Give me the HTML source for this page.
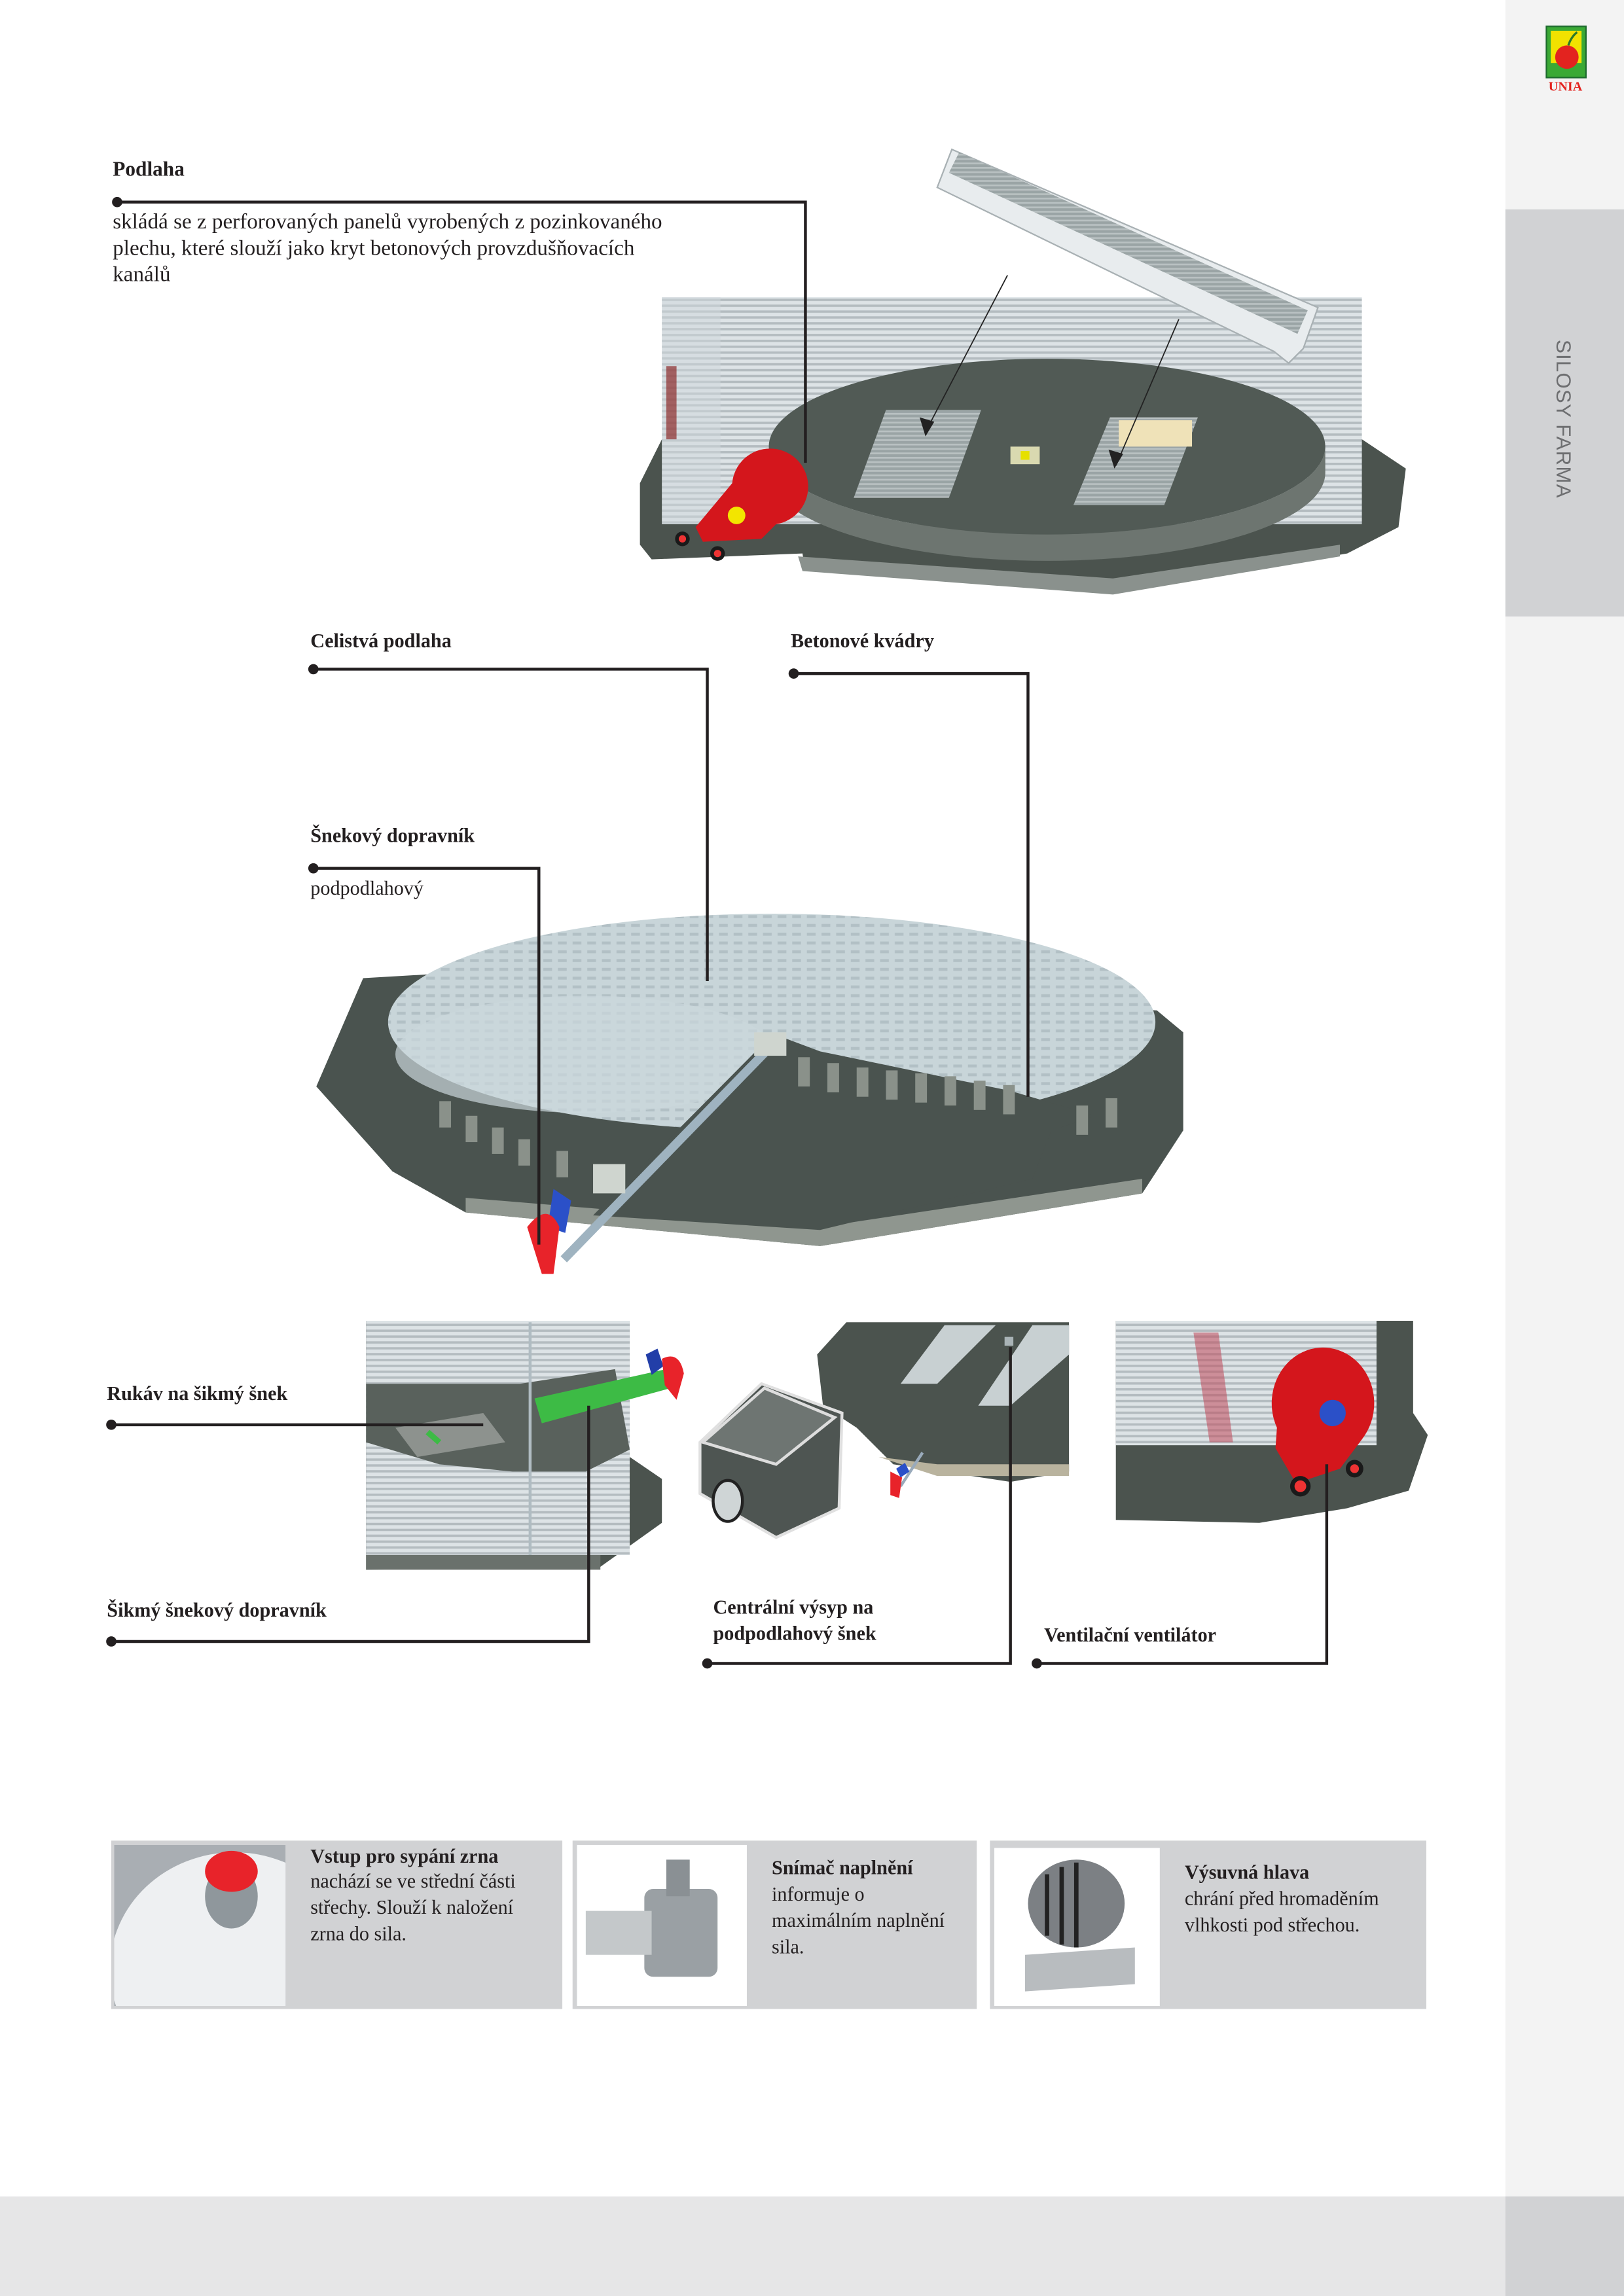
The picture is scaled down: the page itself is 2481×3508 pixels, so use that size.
<!DOCTYPE html>
<html><head><meta charset="utf-8"><style>
html,body{margin:0;padding:0;background:#fff;}
svg{display:block;}
text{font-family:"Liberation Serif",serif;fill:#231f20;}
.b{font-weight:bold;}
</style></head><body>
<svg width="2481" height="3508" viewBox="0 0 1109 1568" preserveAspectRatio="none" xmlns="http://www.w3.org/2000/svg">
<defs>
<pattern id="rib" width="4" height="4" patternUnits="userSpaceOnUse"><rect width="4" height="4" fill="#dde3e6"/><rect width="4" height="1.6" fill="#b4bcc0"/></pattern>
<pattern id="perf" width="10" height="6" patternUnits="userSpaceOnUse"><rect width="10" height="6" fill="#c8d5d9"/><rect x="1" y="1" width="6" height="2" fill="#b2c0c5"/></pattern>
<pattern id="grate" width="5" height="3" patternUnits="userSpaceOnUse"><rect width="5" height="3" fill="#9aa4a5"/><rect width="5" height="1.2" fill="#b9c1c2"/></pattern>
<clipPath id="c1"><rect x="78" y="1260" width="117" height="110"/></clipPath>
<clipPath id="c2"><rect x="394" y="1260" width="116" height="110"/></clipPath>
<clipPath id="c3"><rect x="679" y="1262" width="113" height="108"/></clipPath>
</defs>
<!-- sidebar -->
<rect x="1028" y="0" width="81" height="1568" fill="#f3f3f3"/>
<rect x="1028" y="143" width="81" height="278" fill="#d1d2d4"/>
<rect x="0" y="1500" width="1109" height="68" fill="#e6e6e7"/>
<rect x="1028" y="1500" width="81" height="68" fill="#d1d2d4"/>
<text x="0" y="0" transform="translate(1063,232) rotate(90)" style="font-family:'Liberation Sans',sans-serif;font-size:14px;fill:#6d6e70;letter-spacing:0.5px">SILOSY FARMA</text>
<!-- logo -->
<rect x="1056" y="18" width="27" height="35" fill="#3aa935" stroke="#1c6a2d" stroke-width="1"/>
<rect x="1059" y="21" width="21" height="22" fill="#f2e200"/>
<circle cx="1070" cy="39" r="8" fill="#e3231f"/>
<path d="M1071 31 q2 -6 6 -9" stroke="#2a7a2a" stroke-width="1.5" fill="none"/>
<text x="1069" y="62" text-anchor="middle" class="b" style="font-size:9px;fill:#e3231f">UNIA</text>

<!-- TOP SILO -->
<polygon points="437,330 452,300 930,300 960,320 955,360 920,378 760,405 550,390 548,378 445,382 437,372" fill="#4b534e"/>
<polygon points="545,380 760,395 915,372 915,380 760,406 548,390" fill="#8a918d"/>
<rect x="452" y="203" width="478" height="155" fill="url(#rib)"/>
<rect x="452" y="203" width="40" height="155" fill="#cfd8dc" opacity="0.5"/>
<rect x="455" y="250" width="7" height="50" fill="#8b2b2b" opacity="0.7"/>
<ellipse cx="715" cy="305" rx="190" ry="60" fill="#515a55"/>
<path d="M525 305 a190 60 0 0 0 380 0 l0 18 a190 60 0 0 1 -380 0z" fill="#6d7570"/>
<polygon points="605,280 670,280 648,340 583,340" fill="url(#grate)"/>
<polygon points="758,285 818,285 795,345 733,345" fill="url(#grate)"/>
<rect x="764" y="287" width="50" height="18" fill="#efe2b8"/>
<rect x="690" y="305" width="20" height="12" fill="#d9d9b0"/>
<rect x="697" y="308" width="6" height="6" fill="#e6e000"/>
<line x1="688" y1="188" x2="632" y2="295" stroke="#222" stroke-width="0.8"/>
<polygon points="632,298 628,285 638,288" fill="#222"/>
<line x1="805" y1="218" x2="762" y2="318" stroke="#222" stroke-width="0.8"/>
<polygon points="761,320 757,307 767,310" fill="#222"/>
<polygon points="640,128 650,102 900,210 890,238 880,248 870,240" fill="#e8ecee" stroke="#a8b0b3" stroke-width="1"/>
<polygon points="648,118 655,104 893,212 886,228" fill="url(#grate)"/>
<path d="M500 330 a26 26 0 1 1 30 28 l-10 10 l-40 2 l-5 -10z" fill="#d4161c"/>
<circle cx="503" cy="352" r="6" fill="#f3e500"/>
<circle cx="466" cy="368" r="5" fill="#1a1a1a"/><circle cx="466" cy="368" r="2.5" fill="#e33"/>
<circle cx="490" cy="378" r="5" fill="#1a1a1a"/><circle cx="490" cy="378" r="2.5" fill="#e33"/>

<!-- MIDDLE FLOOR -->
<polygon points="216,742 248,668 300,665 790,690 808,705 808,772 780,815 560,851 318,828 268,800" fill="#4a534f"/>
<polygon points="318,818 560,838 780,805 780,815 560,851 318,828" fill="#8f968f"/>
<ellipse cx="527" cy="698" rx="262" ry="74" fill="url(#perf)"/>
<ellipse cx="400" cy="720" rx="130" ry="40" fill="#cbd7db" opacity="0.7"/>
<polygon points="528,706 405,830 560,840 705,805 718,772 748,762 690,745 560,718" fill="#4a534f"/>
<g fill="#8a918a">
<rect x="300" y="752" width="8" height="18"/><rect x="318" y="762" width="8" height="18"/><rect x="336" y="770" width="8" height="18"/><rect x="354" y="778" width="8" height="18"/><rect x="380" y="786" width="8" height="18"/>
<rect x="545" y="722" width="8" height="20"/><rect x="565" y="726" width="8" height="20"/><rect x="585" y="729" width="8" height="20"/><rect x="605" y="731" width="8" height="20"/><rect x="625" y="733" width="8" height="20"/><rect x="645" y="735" width="8" height="20"/><rect x="665" y="738" width="8" height="20"/><rect x="685" y="741" width="8" height="20"/><rect x="735" y="755" width="8" height="20"/><rect x="755" y="750" width="8" height="20"/>
</g>
<line x1="526" y1="715" x2="385" y2="860" stroke="#9fb3c0" stroke-width="6"/>
<rect x="515" y="705" width="22" height="16" fill="#cfd5cf"/>
<rect x="405" y="795" width="22" height="20" fill="#cfd5cf"/>
<path d="M378 812 l12 8 l-4 22 l-12 -4z" fill="#2b50c8"/>
<path d="M360 838 q14 -18 22 0 l-4 32 l-8 0z" fill="#e8232a"/>

<!-- BOTTOM ROW left -->
<polygon points="250,902 430,902 430,995 452,1010 452,1040 410,1070 250,1072" fill="#4b534e"/>
<rect x="250" y="902" width="180" height="160" fill="url(#rib)"/>
<polygon points="250,945 355,945 420,935 430,990 400,1005 350,1005 300,1000 250,985" fill="#59615c"/>
<polygon points="270,975 330,965 345,985 285,995" fill="#8d928e"/>
<polygon points="365,955 455,935 458,948 370,972" fill="#3dbb45"/>
<line x1="292" y1="978" x2="300" y2="985" stroke="#3dbb45" stroke-width="4"/>
<line x1="362" y1="903" x2="362" y2="1065" stroke="#b0bcc2" stroke-width="2"/>
<path d="M441 925 l8 -4 l4 12 l-8 6z" fill="#223ea8"/>
<path d="M452 928 q12 -6 15 10 l-5 18 l-8 -10z" fill="#e8232a"/>
<rect x="250" y="1062" width="160" height="10" fill="#6a716c"/>

<!-- centre piece -->
<polygon points="558,925 578,903 730,903 730,1005 690,1012 610,1000 585,975 562,960" fill="#4b534e"/>
<polygon points="645,905 680,905 640,945 615,945" fill="#c8d0d2"/>
<polygon points="705,905 730,905 730,925 690,960 668,960" fill="#c8d0d2"/>
<polygon points="600,995 640,1000 730,1000 730,1008 640,1008" fill="#b9b39e"/>
<rect x="686" y="913" width="6" height="6" fill="#a9b3b6"/>
<line x1="630" y1="992" x2="615" y2="1015" stroke="#9ab" stroke-width="2"/>
<path d="M608 1005 l8 4 l-2 14 l-6 -2z" fill="#e8232a"/>
<path d="M612 1003 l6 -4 l3 6 l-6 4z" fill="#2b50c8"/>
<polygon points="478,985 520,945 575,965 573,1030 530,1050 478,1020" fill="#4e5552" stroke="#e0e0e0" stroke-width="2"/>
<polygon points="480,985 522,948 570,968 530,1000" fill="#6e7572" stroke="#ddd" stroke-width="2"/>
<ellipse cx="497" cy="1025" rx="10" ry="14" fill="#cfd5d6" stroke="#222" stroke-width="2"/>

<!-- right fan -->
<polygon points="762,902 965,902 965,965 975,980 962,1018 920,1030 860,1040 762,1038" fill="#4b534e"/>
<rect x="762" y="902" width="178" height="85" fill="url(#rib)"/>
<polygon points="815,910 832,910 842,985 826,985" fill="#c0485a" opacity="0.55"/>
<path d="M872 975 a35 38 0 1 1 58 8 l-15 20 l-30 10 l-14 -24z" fill="#d4161c"/>
<circle cx="910" cy="965" r="9" fill="#2b50c8"/>
<circle cx="888" cy="1015" r="7" fill="#1a1a1a"/><circle cx="888" cy="1015" r="4" fill="#e33"/>
<circle cx="925" cy="1003" r="6" fill="#1a1a1a"/><circle cx="925" cy="1003" r="3" fill="#e33"/>

<!-- CONNECTORS -->
<g stroke="#231f20" stroke-width="2" fill="none">
<polyline points="80,138 550,138 550,316"/>
<polyline points="214,457 483,457 483,670"/>
<polyline points="542,460 702,460 702,749"/>
<polyline points="214,593 368,593 368,850"/>
<polyline points="76,973 330,973"/>
<polyline points="76,1121 402,1121 402,960"/>
<polyline points="483,1136 690,1136 690,920"/>
<polyline points="708,1136 906,1136 906,1000"/>
</g>
<g fill="#231f20">
<circle cx="80" cy="138" r="3.5"/><circle cx="214" cy="457" r="3.5"/><circle cx="542" cy="460" r="3.5"/><circle cx="214" cy="593" r="3.5"/>
<circle cx="76" cy="973" r="3.5"/><circle cx="76" cy="1121" r="3.5"/><circle cx="483" cy="1136" r="3.5"/><circle cx="708" cy="1136" r="3.5"/>
</g>

<!-- TEXTS -->
<g style="font-size:13.5px">
<text x="77" y="120" class="b" style="font-size:14px">Podlaha</text>
<text x="77" y="156" style="font-size:14.8px">skládá se z perforovaných panelů vyrobených z pozinkovaného</text>
<text x="77" y="174" style="font-size:14.8px">plechu, které slouží jako kryt betonových provzdušňovacích</text>
<text x="77" y="192" style="font-size:14.8px">kanálů</text>
<text x="212" y="442" class="b">Celistvá podlaha</text>
<text x="540" y="442" class="b">Betonové kvádry</text>
<text x="212" y="575" class="b">Šnekový dopravník</text>
<text x="212" y="611">podpodlahový</text>
<text x="73" y="956" class="b">Rukáv na šikmý šnek</text>
<text x="73" y="1104" class="b">Šikmý šnekový dopravník</text>
<text x="487" y="1102" class="b">Centrální výsyp na</text>
<text x="487" y="1120" class="b">podpodlahový šnek</text>
<text x="713" y="1121" class="b">Ventilační ventilátor</text>
</g>

<!-- BOTTOM BOXES -->
<rect x="76" y="1257" width="308" height="115" fill="#d1d2d4"/>
<g clip-path="url(#c1)">
<rect x="78" y="1260" width="117" height="110" fill="#a9aeb3"/>
<ellipse cx="160" cy="1345" rx="85" ry="80" fill="#eef0f2"/>
<ellipse cx="158" cy="1295" rx="18" ry="22" fill="#8f979c"/>
<ellipse cx="158" cy="1278" rx="18" ry="14" fill="#e8232a"/>
</g>
<rect x="391" y="1257" width="276" height="115" fill="#d1d2d4"/>
<rect x="394" y="1260" width="116" height="110" fill="#ffffff"/>
<g clip-path="url(#c2)">
<rect x="440" y="1290" width="50" height="60" rx="6" fill="#9aa0a4"/>
<rect x="400" y="1305" width="45" height="30" fill="#c4c8ca"/>
<rect x="455" y="1270" width="16" height="25" fill="#8a9094"/>
</g>
<rect x="676" y="1257" width="298" height="115" fill="#d1d2d4"/>
<rect x="679" y="1262" width="113" height="108" fill="#ffffff"/>
<g clip-path="url(#c3)">
<ellipse cx="735" cy="1300" rx="33" ry="30" fill="#7c8084"/>
<g stroke="#222" stroke-width="3"><line x1="715" y1="1280" x2="715" y2="1322"/><line x1="725" y1="1275" x2="725" y2="1328"/><line x1="735" y1="1272" x2="735" y2="1330"/></g>
<polygon points="700,1335 775,1330 775,1355 700,1360" fill="#b8bcbf"/>
</g>
<g style="font-size:13.5px">
<text x="212" y="1272" class="b">Vstup pro sypání zrna</text>
<text x="212" y="1289">nachází se ve střední části</text>
<text x="212" y="1307">střechy. Slouží k naložení</text>
<text x="212" y="1325">zrna do sila.</text>
<text x="527" y="1280" class="b">Snímač naplnění</text>
<text x="527" y="1298">informuje o</text>
<text x="527" y="1316">maximálním naplnění</text>
<text x="527" y="1334">sila.</text>
<text x="809" y="1283" class="b">Výsuvná hlava</text>
<text x="809" y="1301">chrání před hromaděním</text>
<text x="809" y="1319">vlhkosti pod střechou.</text>
</g>
</svg>
</body></html>
